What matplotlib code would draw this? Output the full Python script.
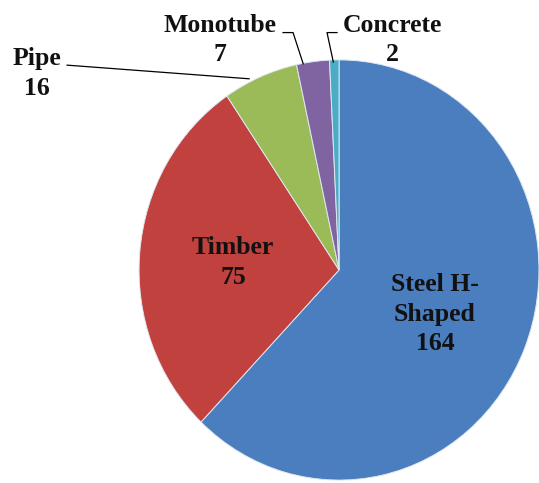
import matplotlib.pyplot as plt
import numpy as np

plt.rcParams['font.family'] = ['Liberation Serif', 'DejaVu Serif']

# data
labels = ['Steel H-\nShaped', 'Timber', 'Pipe', 'Monotube', 'Concrete']
counts = [164, 75, 16, 7, 2]
colors = ['#4A7EBF', '#C0413D', '#9BBB59', '#8064A2', '#4BACC6']

fig = plt.figure(figsize=(5.39, 4.83), dpi=100)
# pie sits at the right side, a bit taller than wide
ax = fig.add_axes([0.258, 0.006, 0.742, 0.87])

wedges, _ = ax.pie(counts, colors=colors, startangle=90, counterclock=False,
                   radius=1.0, wedgeprops={'edgecolor': '#dfe7f2', 'linewidth': 0.7})
ax.set_aspect('auto')
ax.set_xlim(-1, 1)
ax.set_ylim(-1, 1)
ax.axis('off')

font = dict(fontsize=18.5, fontweight='bold', color='#111111', ha='center', va='center',
            linespacing=1.37)

# labels inside the two big slices
ax.text(-0.53, 0.035, f'{labels[1]}\n{counts[1]}', **font)
ax.text(0.48, -0.21, f'{labels[0]}\n{counts[0]}', **font)

# outside labels with leader lines
ax.text(-1.51, 0.935, f'{labels[2]}\n{counts[2]}', clip_on=False, **font)
ax.text(-0.595, 1.095, f'{labels[3]}\n{counts[3]}', clip_on=False, **font)
ax.text(0.265, 1.095, f'{labels[4]}\n{counts[4]}', clip_on=False, **font)

def mid_point(w, r=0.99):
    a = np.deg2rad((w.theta1 + w.theta2) / 2)
    return r * np.cos(a), r * np.sin(a)

lk = dict(color='black', linewidth=0.9, clip_on=False)
px, py = mid_point(wedges[2])
ax.plot([-1.36, px - 0.06], [0.975, py], **lk)
mx, my = mid_point(wedges[3])
ax.plot([-0.28, -0.23, mx - 0.05], [1.13, 1.13, my], **lk)
cx, cy = mid_point(wedges[4])
ax.plot([-0.01, -0.06, cx - 0.005], [1.13, 1.13, cy], **lk)

fig.savefig('out.png', dpi=100)
